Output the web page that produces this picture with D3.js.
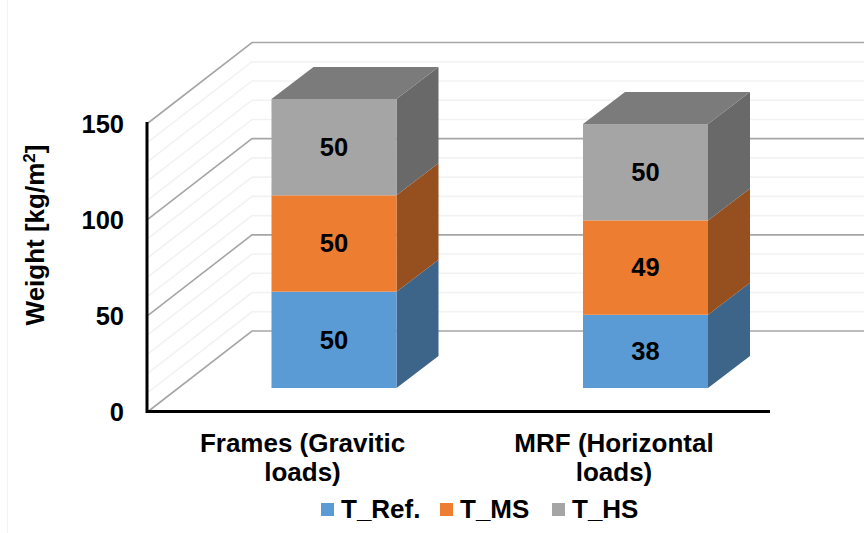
<!DOCTYPE html>
<html><head><meta charset="utf-8">
<script src="https://cdnjs.cloudflare.com/ajax/libs/d3/7.8.5/d3.min.js"></script>
<style>html,body{margin:0;padding:0;background:#fff}svg{display:block}text{font-family:"Liberation Sans",Arial,sans-serif;font-weight:700;fill:#000}</style>
</head><body><svg id="c" width="864" height="533"></svg>
<script>
const categories = [["Frames (Gravitic","loads)"],["MRF (Horizontal","loads)"]];
const seriesNames = ["T_Ref.","T_MS","T_HS"];
const tRef = [50,38];
const tMS = [50,49];
const tHS = [50,50];
const seriesValues = [tRef,tMS,tHS];
const frontColors = ["#5b9bd5","#ed7d31","#a5a5a5"];
const sideColors = ["#3c6589","#964f1e","#696969"];
const topColor = "#7b7b7b";
const yTicks = [0,50,100,150];
const minorTicks = d3.range(0,151,10);

const svg = d3.select("#c");
const yBar = d3.scaleLinear().domain([0,150]).range([388,99]);
const yAxis = d3.scaleLinear().domain([0,150]).range([411.5,123]);
const yBack = d3.scaleLinear().domain([0,150]).range([331,42.5]);
const xBar = d3.scalePoint().domain([0,1]).range([271.5,583]);
const barW = 125, dx = 42, dy = 32;
const wallX = 252, axisX = 148, right = 864, baseEnd = 770;
const line = d3.line();

// faint page edge
svg.append("line").attr("x1",7.5).attr("x2",7.5).attr("y1",0).attr("y2",533).attr("stroke","#f4f4f4").attr("stroke-width",1);

const grid = svg.append("g").attr("fill","none");
function isMajor(t){return t%50===0;}
grid.selectAll("path").data([...minorTicks].sort((a,b)=>isMajor(a)-isMajor(b))).join("path")
  .attr("d",t=>line([[axisX,yAxis(t)],[wallX,yBack(t)],[right,yBack(t)]]))
  .attr("stroke",t=>isMajor(t)?"#a6a6a6":"#f2f2f2")
  .attr("stroke-width",1.6);

// bars
const bars = svg.append("g");
categories.forEach((c,i)=>{
  let acc=0;
  const x=xBar(i);
  seriesValues.forEach((vals,s)=>{
    const v=vals[i], y0=yBar(acc), y1=yBar(acc+v);
    acc+=v;
    bars.append("path").attr("fill",sideColors[s])
      .attr("d",line([[x+barW,y0],[x+barW+dx,y0-dy],[x+barW+dx,y1-dy],[x+barW,y1]])+"Z");
    bars.append("rect").attr("x",x).attr("y",y1).attr("width",barW).attr("height",y0-y1).attr("fill",frontColors[s]);
    bars.append("text").attr("x",x+barW/2).attr("y",(y0+y1)/2-0.5).attr("dy","0.36em")
      .attr("text-anchor","middle").attr("font-size",25.5).text(v);
    if(s===seriesValues.length-1){
      bars.append("path").attr("fill",topColor)
        .attr("d",line([[x,y1],[x+dx,y1-dy],[x+barW+dx,y1-dy],[x+barW,y1]])+"Z");
    }
  });
});

// axes
svg.append("path").attr("fill","none").attr("stroke","#000").attr("stroke-width",3)
  .attr("d",line([[axisX-1,yAxis(150)-1],[axisX-1,yAxis(0)],[baseEnd,yAxis(0)]]));
svg.append("g").selectAll("text").data(yTicks).join("text")
  .attr("x",124).attr("y",d=>yAxis(d)+0.5).attr("dy","0.36em").attr("text-anchor","end").attr("font-size",25.5).text(d=>d);

// y title
const yt=svg.append("text").attr("transform","translate(44,235) rotate(-90)").attr("text-anchor","middle").attr("font-size",26);
yt.append("tspan").text("Weight [kg/m");
yt.append("tspan").attr("font-size",17).attr("dy",-9).text("2");
yt.append("tspan").attr("dy",9).text("]");

// categories
categories.forEach((c,i)=>{
  const cx=[302.5,614][i];
  svg.append("g").selectAll("text").data(c).join("text")
    .attr("x",cx).attr("y",(d,k)=>452+k*29).attr("text-anchor","middle").attr("font-size",26).text(d=>d);
});

// legend
const legX=[321,440,552];
const leg=svg.append("g").selectAll("g").data(seriesNames).join("g").attr("transform",(d,i)=>`translate(${legX[i]},503)`);
leg.append("rect").attr("width",13).attr("height",13).attr("fill",(d,i)=>frontColors[i]);
leg.append("text").attr("x",20).attr("y",15).attr("font-size",26).text(d=>d);
</script></body></html>
